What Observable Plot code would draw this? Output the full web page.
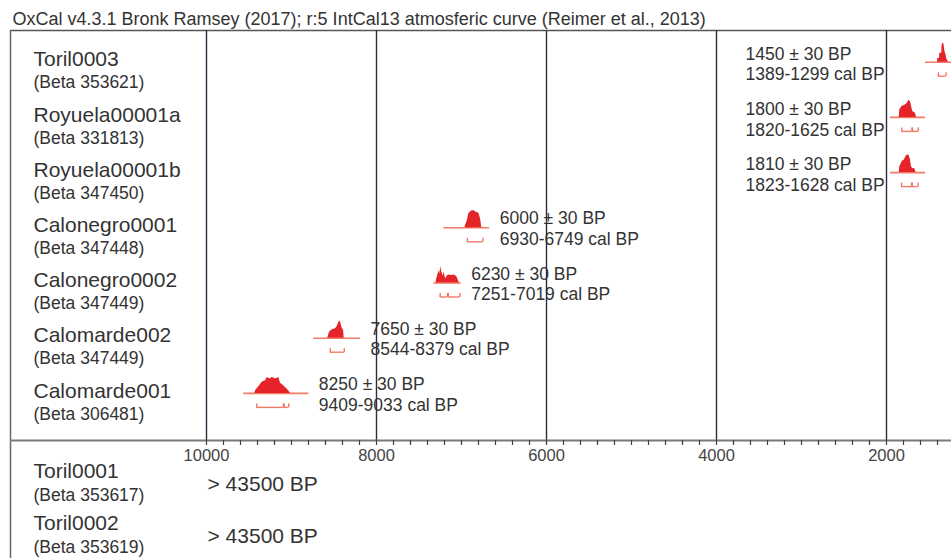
<!DOCTYPE html>
<html><head><meta charset="utf-8">
<script src="https://cdn.jsdelivr.net/npm/d3@7"></script>
<script src="https://cdn.jsdelivr.net/npm/@observablehq/plot@0.6"></script>
<style>
html,body{margin:0;padding:0;background:#fff;}
</style>
</head><body><div id="chart"></div>
<script>
// ---------------- data ----------------
const titleText = "OxCal v4.3.1 Bronk Ramsey (2017); r:5 IntCal13 atmosferic curve (Reimer et al., 2013)";

const samples   = ["Toril0003", "Royuela00001a", "Royuela00001b", "Calonegro0001", "Calonegro0002", "Calomarde002", "Calomarde001"];
const labCodes  = ["Beta 353621", "Beta 331813", "Beta 347450", "Beta 347448", "Beta 347449", "Beta 347449", "Beta 306481"];
const bpAges    = [1450, 1800, 1810, 6000, 6230, 7650, 8250];
const bpErrors  = [30, 30, 30, 30, 30, 30, 30];
const calFrom   = [1389, 1820, 1823, 6930, 7251, 8544, 9409];
const calTo     = [1299, 1625, 1628, 6749, 7019, 8379, 9033];
// extent of the plotted likelihood baseline (cal BP)
const plotFrom  = [1541, 1953, 1953, 7208, 7325, 8738, 9561];
const plotTo    = [1000, 1541, 1541, 6667, 7004, 8188, 8796];

// 95.4% sub-ranges (row index, from, to)
const rangeRow  = [0, 1, 1, 2, 2, 3, 4, 4, 5, 6, 6];
const rangeFrom = [1389, 1820, 1695, 1823, 1698, 6930, 7251, 7155, 8544, 9409, 9085];
const rangeTo   = [1299, 1700, 1625, 1705, 1628, 6749, 7165, 7019, 8379, 9095, 9033];

// calibrated probability (relative) : [cal BP, prob]
const probToril0003 = [[1400,0],[1397,0.22],[1376,0.22],[1373,0.53],[1350,0.53],[1346,1.0],[1330,1.15],[1322,1.0],[1310,0.55],[1300,0.45],[1290,0.18],[1270,0]];
const probRoyuelaA  = [[1850,0],[1844,0.45],[1815,0.65],[1788,0.7],[1756,0.82],[1737,1.0],[1718,0.94],[1706,0.65],[1691,0.35],[1679,0.3],[1659,0.24],[1647,0]];
const probRoyuelaB  = [[1850,0],[1844,0.35],[1815,0.65],[1788,0.75],[1765,1.0],[1737,1.04],[1718,0.75],[1706,0.35],[1691,0.22],[1671,0.25],[1651,0]];
const probCalonegro1 = [[6960,0],[6953,0.14],[6933,0.39],[6914,0.82],[6886,0.98],[6855,1.02],[6827,0.92],[6796,0.86],[6776,0.53],[6761,0]];
const probCalonegro2 = [[7300,0],[7294,0.18],[7279,0.47],[7265,0.71],[7255,0.53],[7244,0.97],[7232,0.65],[7215,0.41],[7204,0.65],[7188,0.24],[7168,0.41],[7153,0.47],[7118,0.44],[7082,0.47],[7053,0.35],[7035,0.12],[7024,0]];
const probCalomarde2 = [[8575,0],[8568,0.1],[8553,0.35],[8521,0.49],[8482,0.55],[8462,0.69],[8444,0.94],[8424,0.98],[8404,0.59],[8388,0.47],[8380,0]];
const probCalomarde1 = [[9430,0],[9424,0.16],[9385,0.39],[9345,0.65],[9306,0.75],[9286,0.94],[9255,0.84],[9227,0.94],[9188,0.84],[9149,0.94],[9129,0.59],[9091,0.45],[9051,0.25],[9032,0.16],[9012,0]];
const probSeries = [probToril0003, probRoyuelaA, probRoyuelaB, probCalonegro1, probCalonegro2, probCalomarde2, probCalomarde1];

// undated (beyond range) samples
const bottomSamples = ["Toril0001", "Toril0002"];
const bottomCodes   = ["Beta 353617", "Beta 353619"];
const bottomAges    = [43500, 43500];

// axis
const tickValues = [10000, 8000, 6000, 4000, 2000];
const minorStep = 200;

// ---------------- layout ----------------
const W = 951, H = 558;
const frameTop = 30, axisY = 440, frameLeft = 10;
const rowY = i => 61.7 + 55.2 * i;
const probPx = 17;
const yearAtPx = px => 10000 - (px - 206) * (8000 / 680);
const red = "#e5242a", salmon = "#f07a66", ink = "#333";
const font = "'Liberation Sans', Arial, Helvetica, sans-serif";

const rows = samples.map((s, i) => ({
  sample: s, code: labCodes[i], age: bpAges[i], err: bpErrors[i],
  calFrom: calFrom[i], calTo: calTo[i], plotFrom: plotFrom[i], plotTo: plotTo[i], y: rowY(i),
  right: plotTo[i] < 2000
}));
const dens = probSeries.flatMap((arr, i) => arr.map(([year, p]) => ({row: i, year, p})));
const ranges = rangeRow.map((r, k) => ({row: r, from: rangeFrom[k], to: rangeTo[k]}));
const rangeEnds = ranges.flatMap(d => [{row: d.row, x: d.from}, {row: d.row, x: d.to}]);
const minorTicks = d3.range(tickValues[0], tickValues[tickValues.length - 1] - 700, -minorStep);
const bottom = bottomSamples.map((s, i) => ({sample: s, code: bottomCodes[i], age: bottomAges[i], i}));
const bottomNameY = [471, 523];

const leftRows = rows.filter(d => !d.right), rightRows = rows.filter(d => d.right);

const chart = Plot.plot({
  width: W, height: H,
  marginTop: 0, marginBottom: 0, marginLeft: 0, marginRight: 0,
  x: {domain: [10000, 2000], range: [206, 886], axis: null},
  y: {domain: [0, H], range: [0, H], axis: null},
  style: {fontFamily: font, background: "#fff", color: ink},
  marks: [
    // frame
    Plot.ruleY([frameTop], {x1: yearAtPx(frameLeft), x2: yearAtPx(W + 20), stroke: "#555", strokeWidth: 1.5}),
    Plot.ruleX([yearAtPx(frameLeft)], {y1: frameTop, y2: H, stroke: "#666", strokeWidth: 1.5}),
    // grid
    Plot.ruleX(tickValues, {y1: frameTop, y2: axisY, stroke: "#2d2d42", strokeWidth: 1.4}),
    // axis
    Plot.ruleY([axisY], {x1: yearAtPx(frameLeft), x2: yearAtPx(W + 20), stroke: "#7a7a7a", strokeWidth: 2}),
    Plot.ruleX(minorTicks, {y1: axisY, y2: axisY + 5, stroke: "#444", strokeWidth: 1.2}),
    Plot.text(tickValues, {x: d => d, y: 455, text: d => String(d), fontSize: 16.5, fill: "#444"}),
    // title
    Plot.text([titleText], {frameAnchor: "top-left", dx: 12, dy: 12, text: d => d, fontSize: 18, fill: ink, textAnchor: "start"}),
    // baselines
    Plot.ruleY(rows, {y: "y", x1: "plotFrom", x2: "plotTo", stroke: salmon, strokeWidth: 1.6}),
    // probability
    Plot.areaY(dens, {x: "year", y1: d => rowY(d.row), y2: d => rowY(d.row) - d.p * probPx, z: "row", fill: red}),
    // ranges
    Plot.ruleY(ranges, {y: d => rowY(d.row) + 14, x1: "from", x2: "to", stroke: salmon, strokeWidth: 1.4}),
    Plot.ruleX(rangeEnds, {x: "x", y1: d => rowY(d.row) + 10.5, y2: d => rowY(d.row) + 14.5, stroke: salmon, strokeWidth: 1.4}),
    // row names
    Plot.text(rows, {frameAnchor: "left", dx: 33, y: d => d.y - 2.5, text: "sample", fontSize: 21, fill: ink, textAnchor: "start"}),
    Plot.text(rows, {frameAnchor: "left", dx: 33, y: d => d.y + 20.5, text: d => `(${d.code})`, fontSize: 17.5, fill: ink, textAnchor: "start"}),
    // date labels
    Plot.text(leftRows, {x: "plotTo", dx: 10, y: d => d.y - 9, text: d => `${d.age} ± ${d.err} BP`, fontSize: 17.5, fill: ink, textAnchor: "start"}),
    Plot.text(leftRows, {x: "plotTo", dx: 10, y: d => d.y + 11.5, text: d => `${d.calFrom}-${d.calTo} cal BP`, fontSize: 17.5, fill: ink, textAnchor: "start"}),
    Plot.text(rightRows, {x: 2000, dx: -141, y: d => d.y - 8, text: d => `${d.age} ± ${d.err} BP`, fontSize: 17.5, fill: ink, textAnchor: "start"}),
    Plot.text(rightRows, {x: 2000, dx: -141, y: d => d.y + 12.5, text: d => `${d.calFrom}-${d.calTo} cal BP`, fontSize: 17.5, fill: ink, textAnchor: "start"}),
    // undated samples
    Plot.text(bottom, {frameAnchor: "left", dx: 33, y: d => bottomNameY[d.i], text: "sample", fontSize: 21, fill: ink, textAnchor: "start"}),
    Plot.text(bottom, {frameAnchor: "left", dx: 33, y: d => bottomNameY[d.i] + 24, text: d => `(${d.code})`, fontSize: 17.5, fill: ink, textAnchor: "start"}),
    Plot.text(bottom, {frameAnchor: "left", dx: 207, y: d => bottomNameY[d.i] + 13, text: d => `> ${d.age} BP`, fontSize: 21, fill: ink, textAnchor: "start"})
  ]
});
document.getElementById("chart").appendChild(chart);
</script>
</body></html>
